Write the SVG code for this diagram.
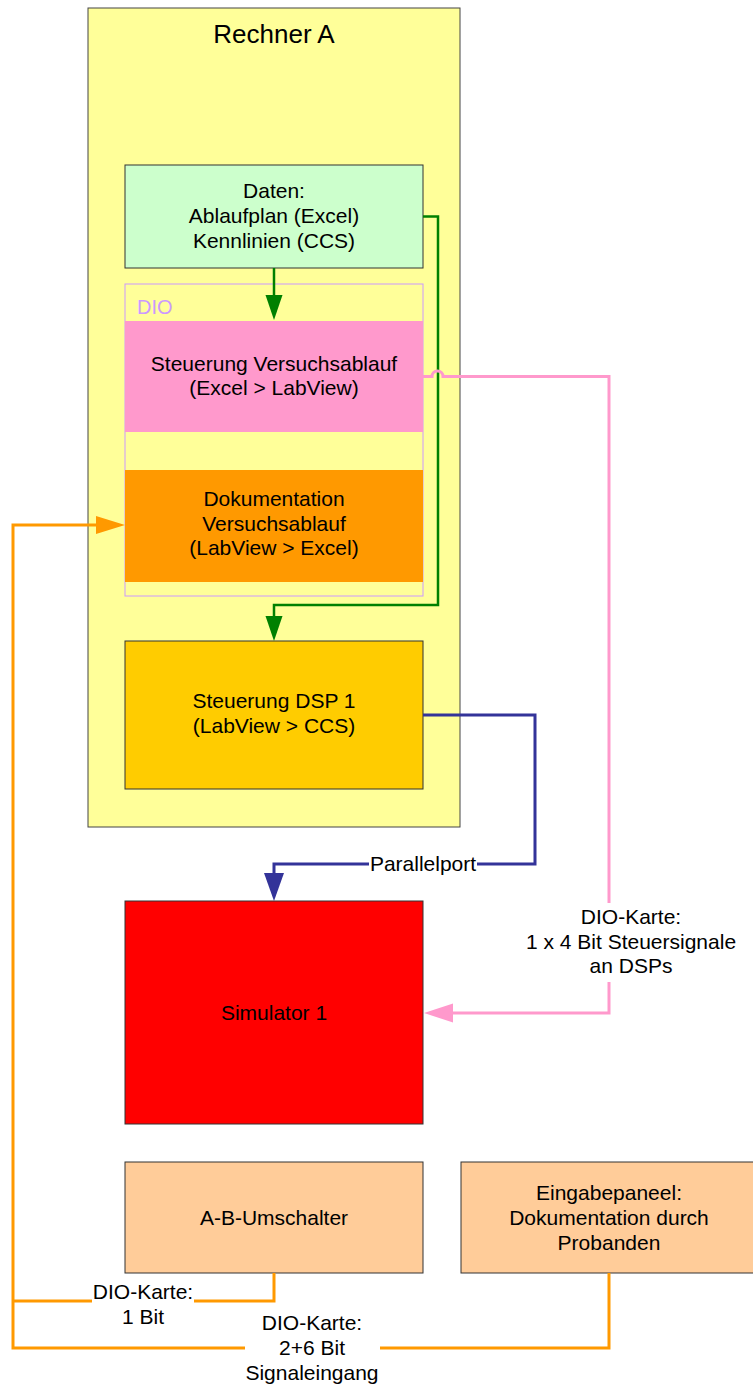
<svg xmlns="http://www.w3.org/2000/svg" width="753" height="1387" viewBox="0 0 753 1387">
<style>
text{font-family:"Liberation Sans",Arial,sans-serif;font-size:21px;fill:#000;text-anchor:middle}
.box{stroke:#333;stroke-width:1}
.ln{fill:none}
.g{stroke:#008000;stroke-width:2.5}
.b{stroke:#333399;stroke-width:3}
.p{stroke:#FF99CC;stroke-width:3}
.o{stroke:#FF9900;stroke-width:3}
.bg{fill:#fff}
</style>
<defs>
<marker id="ag" markerUnits="userSpaceOnUse" markerWidth="26" markerHeight="18" refX="0" refY="8.5" orient="auto"><path d="M0,0 L25,8.5 L0,17 z" fill="#008000"/></marker>
<marker id="ab" markerUnits="userSpaceOnUse" markerWidth="29" markerHeight="21" refX="0" refY="10" orient="auto"><path d="M0,0 L28,10 L0,20 z" fill="#333399"/></marker>
<marker id="ap" markerUnits="userSpaceOnUse" markerWidth="30" markerHeight="20" refX="0" refY="9.5" orient="auto"><path d="M0,0 L29,9.5 L0,19 z" fill="#FF99CC"/></marker>
<marker id="ao" markerUnits="userSpaceOnUse" markerWidth="30" markerHeight="19" refX="0" refY="9" orient="auto"><path d="M0,0 L29,9 L0,18 z" fill="#FF9900"/></marker>
</defs>
<rect width="753" height="1387" fill="#fff"/>
<g id="rechnerA">
<rect x="88" y="8" width="372" height="819" fill="#FFFF99" stroke="#444" stroke-width="1"/>
<text x="274" y="43" style="font-size:26px">Rechner A</text>
</g>
<g id="daten">
<rect class="box" x="125" y="165" width="298" height="103" fill="#CCFFCC"/>
<text x="274" y="198">Daten:</text>
<text x="274" y="223">Ablaufplan (Excel)</text>
<text x="274" y="248">Kennlinien (CCS)</text>
</g>
<g id="dio">
<rect x="125" y="284" width="298" height="312" fill="#FFFF99" stroke="#CC99FF" stroke-width="1"/>
<text x="137" y="314" style="fill:#CC99FF;text-anchor:start;font-size:20px">DIO</text>
</g>
<g id="steuerungVersuchsablauf">
<rect x="125" y="321" width="298" height="111" fill="#FF99CC"/>
<text x="274" y="371">Steuerung Versuchsablauf</text>
<text x="274" y="395">(Excel &gt; LabView)</text>
</g>
<g id="dokumentation">
<rect x="125" y="470" width="298" height="112" fill="#FF9900"/>
<text x="274" y="506">Dokumentation</text>
<text x="274" y="531">Versuchsablauf</text>
<text x="274" y="555">(LabView &gt; Excel)</text>
</g>
<g id="steuerungDSP">
<rect class="box" x="125" y="641" width="298" height="148" fill="#FFCC00"/>
<text x="274" y="708">Steuerung DSP 1</text>
<text x="274" y="733">(LabView &gt; CCS)</text>
</g>
<g id="simulator">
<rect class="box" x="125" y="901" width="298" height="223" fill="#FF0000"/>
<text x="274" y="1020">Simulator 1</text>
</g>
<g id="umschalter">
<rect class="box" x="125" y="1162" width="298" height="111" fill="#FFCC99"/>
<text x="274" y="1225">A-B-Umschalter</text>
</g>
<g id="eingabepaneel">
<rect class="box" x="461" y="1162" width="300" height="111" fill="#FFCC99"/>
<text x="609" y="1200">Eingabepaneel:</text>
<text x="609" y="1225">Dokumentation durch</text>
<text x="609" y="1250">Probanden</text>
</g>
<g id="connectors">
<path class="ln g" d="M274,268 V295" marker-end="url(#ag)"/>
<path class="ln g" d="M423,216.5 H438 V605 H274 V616" marker-end="url(#ag)"/>
<path class="ln p" d="M423,376.5 H432 A5.5,5.5 0 0 1 443,376.5 H609 V1013 H453" marker-end="url(#ap)"/>
<rect class="bg" x="525" y="903" width="214" height="79"/>
<text x="631" y="924">DIO-Karte:</text>
<text x="631" y="949">1 x 4 Bit Steuersignale</text>
<text x="631" y="973">an DSPs</text>
<path class="ln b" d="M423,715 H535 V864 H274 V873" marker-end="url(#ab)"/>
<rect class="bg" x="369" y="852" width="108" height="24"/>
<text x="423" y="871">Parallelport</text>
<path class="ln o" d="M274,1273 V1301 H13" />
<path class="ln o" d="M609,1273 V1348 H13 V525 H96" marker-end="url(#ao)"/>
<rect class="bg" x="92" y="1286" width="102" height="44"/>
<text x="143" y="1299">DIO-Karte:</text>
<text x="143" y="1324">1 Bit</text>
<rect class="bg" x="245" y="1311" width="135" height="76"/>
<text x="312" y="1330">DIO-Karte:</text>
<text x="312" y="1355">2+6 Bit</text>
<text x="312" y="1380">Signaleingang</text>
</g>
</svg>
